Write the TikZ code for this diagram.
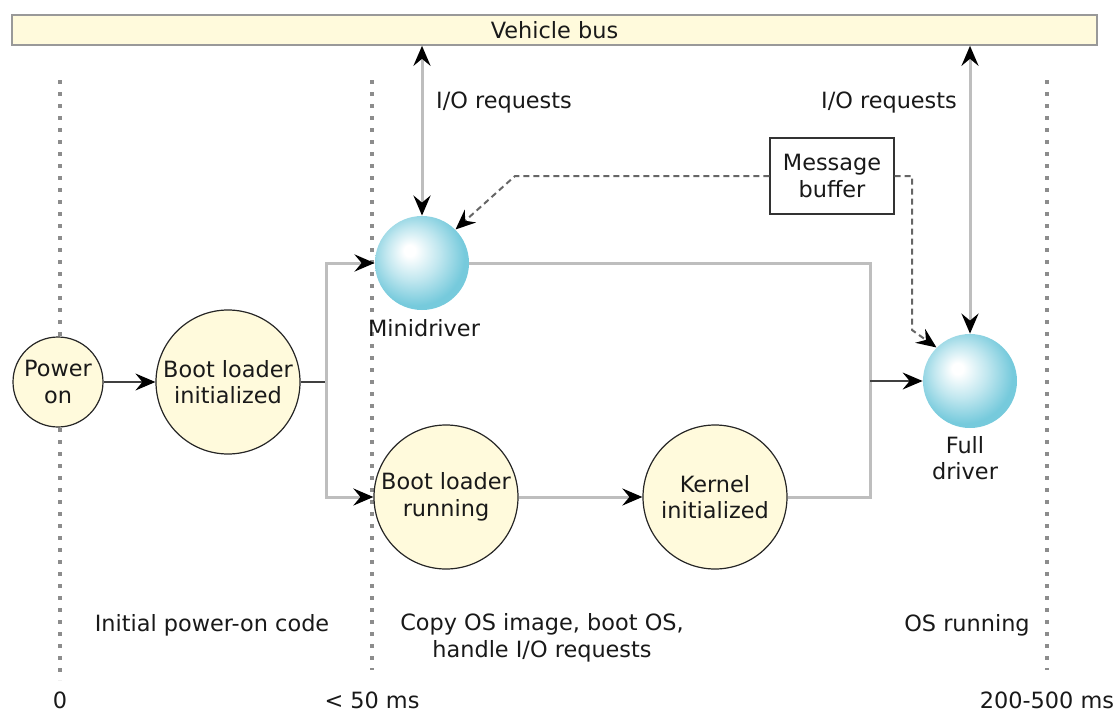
\documentclass[tikz,border=0pt]{standalone}
\usepackage{fontspec}
\setmainfont{DejaVu Sans}
\usepackage{tikz}
\usepackage{xcolor}
\usetikzlibrary{arrows.meta,calc}

\definecolor{cream}{RGB}{255,250,220}
\definecolor{spherecyan}{RGB}{118,202,220}
\definecolor{linegray}{RGB}{190,190,190}
\definecolor{txtgray}{RGB}{25,25,25}
\pgfdeclareradialshading{sphere}{\pgfpoint{-7bp}{7bp}}{%
  color(0bp)=(white); color(3bp)=(white); color(14bp)=(spherecyan!45!white);
  color(26bp)=(spherecyan); color(50bp)=(spherecyan)}

\tikzset{
  yellowball/.style={circle,draw=black!85,fill=cream,inner sep=0pt,align=center,line width=0.6pt},
  blueball/.style={circle,shading=sphere,inner sep=0pt},
  grayline/.style={draw=linegray,line width=1.5pt},
  darkline/.style={draw=black!75,line width=0.6pt},
  dashline/.style={draw=black!60,line width=1pt,dash pattern=on 3pt off 2pt},
  timeline/.style={draw=black!45,line width=1.9pt,dash pattern=on 1.9pt off 4.1pt},
  tip/.style={-{Stealth[length=10pt,width=8.5pt,inset=3.5pt,color=black]}},
  tips/.style={{Stealth[length=10pt,width=8.5pt,inset=3.5pt,color=black]}-{Stealth[length=10pt,width=8.5pt,inset=3.5pt,color=black]}},
}

\begin{document}
\begin{tikzpicture}[x=0.5pt,y=-0.5pt,font=\fontsize{11.2}{13.2}\selectfont,text=txtgray]
    \useasboundingbox (0,0) rectangle (1114,712);
    % time marks
    \foreach \x/\lab/\e in {60/0/680,372/< 50 ms/670,1047/200-500 ms/670}{
        \draw[timeline] (\x,80) -- (\x,\e);
        \node at (\x,700) {\lab};
    }
    % bus
    \node[draw=black!40,fill=cream,line width=0.8pt,minimum width=542.5pt,minimum height=15pt,inner sep=0pt]
        (bus) at (554.5,30) {Vehicle bus};
    % states
    \node[yellowball,minimum size=45pt] (poweron) at (58,382) {Power\\on};
    \node[yellowball,minimum size=72pt] (bootinit) at (228,382) {Boot loader\\initialized};
    \node[yellowball,minimum size=72pt] (bootrun) at (446,497) {Boot loader\\running};
    \node[yellowball,minimum size=72pt] (kernel) at (715,497) {Kernel\\initialized};
    \node[blueball,minimum size=47pt] (minidrv) at (422,263) {};
    \node[blueball,minimum size=47pt] (fulldrv) at (970,381) {};
    \node at (424,328) {Minidriver};
    \node[align=center] at (965,458) {Full\\driver};
    \node[draw=black!80,fill=white,line width=0.6pt,align=center,minimum width=62pt,minimum height=38pt,inner sep=0pt]
        (msgbuf) at (832,176) {Message\\buffer};
    % connections
    \coordinate (fork) at (326,382);
    \coordinate (join) at (870,381);
    \draw[darkline,tip] (poweron) -- (bootinit);
    \draw[darkline] (bootinit) -- (fork);
    \draw[grayline,tip] (fork) |- (minidrv);
    \draw[grayline,tip] (fork) |- (bootrun);
    \draw[grayline,tip] (bootrun) -- (kernel);
    \draw[grayline] (minidrv) -| (join) |- (kernel);
    \draw[darkline,tip] (join) -- (fulldrv);
    % I/O requests
    \draw[grayline,tips] (minidrv |- bus.south) -- (minidrv);
    \draw[grayline,tips] (fulldrv |- bus.south) -- (fulldrv);
    \node at (504,103) {I/O requests};
    \node at (889,103) {I/O requests};
    % message buffer
    \coordinate (bufleft) at (515,176);
    \coordinate (bufright) at (912,176);
    \coordinate (bufdown) at (912,330);
    \draw[dashline,tip] (msgbuf) -- (bufleft) -- (minidrv.north east);
    \draw[dashline,tip] (msgbuf) -- (bufright) -- (bufdown) -- (fulldrv.north west);
    % phases
    \node at (212,625) {Initial power-on code};
    \node[align=center] at (542,638) {Copy OS image, boot OS,\\handle I/O requests};
    \node at (967,625) {OS running};
\end{tikzpicture}
\end{document}
